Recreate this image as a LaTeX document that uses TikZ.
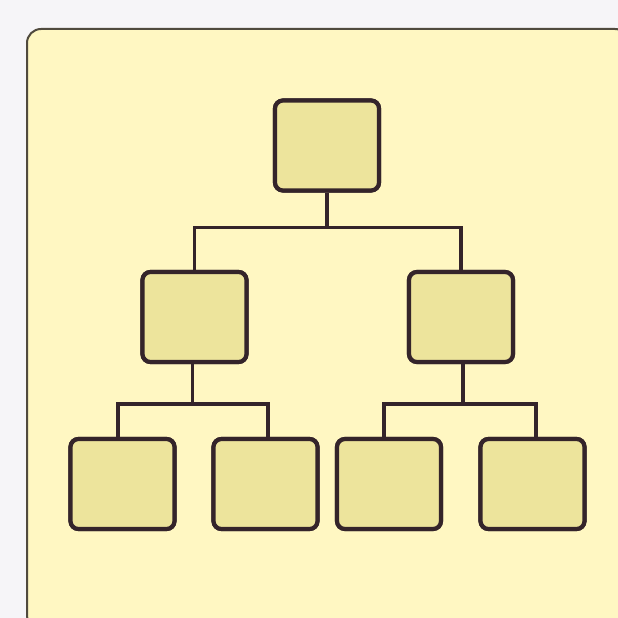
\documentclass[tikz,border=0pt]{standalone}
\usetikzlibrary{calc}
\definecolor{outerbg}{RGB}{246,245,248}
\definecolor{panelfill}{RGB}{255,247,194}
\definecolor{paneldraw}{RGB}{80,74,62}
\definecolor{boxfill}{RGB}{237,228,156}
\definecolor{boxdraw}{RGB}{52,36,42}
\tikzset{
  orgbox/.style={draw=boxdraw, fill=boxfill, line width=4.2pt, rounded corners=8pt,
    minimum width=104pt, minimum height=90pt, inner sep=0pt},
  link/.style={draw=boxdraw, line width=3.6pt}
}
\begin{document}
\begin{tikzpicture}[x=1pt,y=-1pt]
\useasboundingbox (0,0) rectangle (618,618);
\fill[outerbg] (0,0) rectangle (618,618);
\begin{scope}
\clip (0,0) rectangle (618,618);
\draw[fill=panelfill, draw=paneldraw, line width=2pt, rounded corners=14pt] (27,29) rectangle (629,629);
\end{scope}
% nodes
\node[orgbox] (top) at (327,145.5) {};
\node[orgbox] (l) at (194.5,317) {};
\node[orgbox] (r) at (461,317) {};
\node[orgbox] (ll) at (122.5,484) {};
\node[orgbox] (lr) at (265.5,484) {};
\node[orgbox] (rl) at (389,484) {};
\node[orgbox] (rr) at (532.5,484) {};
% connectors
\coordinate (b0) at ($(top.south)+(0,35)$);
\coordinate (b1) at ($(l.south)+(-2,40)$);
\coordinate (b2) at ($(r.south)+(2,40)$);
\draw[link] (top.south) -- (b0);
\draw[link] (l.north) |- (b0) -| (r.north);
\draw[link] ([xshift=-2pt]l.south) -- (b1);
\draw[link] ([xshift=-4.5pt]ll.north) |- (b1) -| ([xshift=2.5pt]lr.north);
\draw[link] ([xshift=2pt]r.south) -- (b2);
\draw[link] ([xshift=-5pt]rl.north) |- (b2) -| ([xshift=3.5pt]rr.north);
% redraw boxes on top of connectors
\node[orgbox] at (top) {};
\node[orgbox] at (l) {};
\node[orgbox] at (r) {};
\node[orgbox] at (ll) {};
\node[orgbox] at (lr) {};
\node[orgbox] at (rl) {};
\node[orgbox] at (rr) {};
\end{tikzpicture}
\end{document}
